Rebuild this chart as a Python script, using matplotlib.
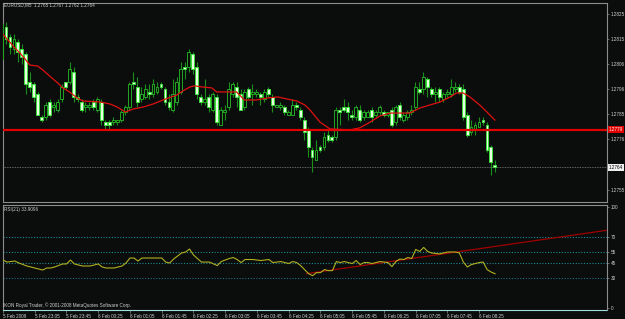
import numpy as np
import matplotlib.pyplot as plt

# EURUSD M5 candles, 5 Feb 22:25 -> 6 Feb 08:45
opens = [1.2807, 1.2820, 1.2816, 1.2811, 1.2814, 1.2811, 1.2809, 1.2798, 1.2797, 1.2793,
         1.2784, 1.2784, 1.2790, 1.2788, 1.2787, 1.2791, 1.2798, 1.2798, 1.2802, 1.2792,
         1.2790, 1.2788, 1.2788, 1.2790, 1.2787, 1.2790, 1.2782, 1.2782, 1.2782, 1.2782,
         1.2783, 1.2786, 1.2788, 1.2798, 1.2796, 1.2791, 1.2792, 1.2794, 1.2793, 1.2794,
         1.2797, 1.2795, 1.2790, 1.2787, 1.2790, 1.2794, 1.2804, 1.2804, 1.2809, 1.2804,
         1.2792, 1.2790, 1.2792, 1.2787, 1.2792, 1.2781, 1.2786, 1.2788, 1.2793, 1.2796,
         1.2793, 1.2788, 1.2795, 1.2793, 1.2793, 1.2793, 1.2791, 1.2795, 1.2792, 1.2788,
         1.2788, 1.2788, 1.2785, 1.2785, 1.2789, 1.2787, 1.2783, 1.2779, 1.2771, 1.2767,
         1.2772, 1.2772, 1.2777, 1.2776, 1.2776, 1.2787, 1.2788, 1.2788, 1.2785, 1.2784,
         1.2787, 1.2784, 1.2784, 1.2787, 1.2785, 1.2786, 1.2786, 1.2785, 1.2787, 1.2782,
         1.2789, 1.2783, 1.2784, 1.2786, 1.2788, 1.2795, 1.2795, 1.2799, 1.2795, 1.2793,
         1.2795, 1.2791, 1.2793, 1.2793, 1.2795, 1.2796, 1.2795, 1.2785, 1.2778, 1.2779,
         1.2780, 1.2783, 1.2781, 1.2772, 1.2765]
highs = [1.2822, 1.2822, 1.2817, 1.2817, 1.2815, 1.2813, 1.2810, 1.2802, 1.2798, 1.2794,
         1.2785, 1.2790, 1.2791, 1.2790, 1.2791, 1.2797, 1.2798, 1.2806, 1.2804, 1.2793,
         1.2791, 1.2790, 1.2790, 1.2791, 1.2792, 1.2791, 1.2783, 1.2783, 1.2784, 1.2783,
         1.2787, 1.2789, 1.2798, 1.2802, 1.2800, 1.2796, 1.2797, 1.2797, 1.2799, 1.2798,
         1.2798, 1.2796, 1.2793, 1.2799, 1.2800, 1.2806, 1.2806, 1.2811, 1.2810, 1.2806,
         1.2793, 1.2799, 1.2793, 1.2794, 1.2793, 1.2788, 1.2789, 1.2798, 1.2798, 1.2798,
         1.2795, 1.2795, 1.2796, 1.2797, 1.2795, 1.2794, 1.2795, 1.2796, 1.2793, 1.2789,
         1.2790, 1.2789, 1.2787, 1.2791, 1.2790, 1.2788, 1.2784, 1.2780, 1.2772, 1.2775,
         1.2773, 1.2778, 1.2779, 1.2777, 1.2788, 1.2788, 1.2791, 1.2790, 1.2787, 1.2789,
         1.2789, 1.2787, 1.2787, 1.2788, 1.2787, 1.2789, 1.2787, 1.2786, 1.2788, 1.2789,
         1.2790, 1.2786, 1.2787, 1.2789, 1.2798, 1.2798, 1.2802, 1.2800, 1.2796, 1.2796,
         1.2796, 1.2794, 1.2795, 1.2799, 1.2798, 1.2797, 1.2797, 1.2786, 1.2783, 1.2782,
         1.2784, 1.2784, 1.2782, 1.2773, 1.2767]
lows = [1.2806, 1.2813, 1.2809, 1.2809, 1.2806, 1.2805, 1.2793, 1.2794, 1.2790, 1.2785,
        1.2782, 1.2783, 1.2784, 1.2786, 1.2786, 1.2790, 1.2795, 1.2797, 1.2790, 1.2790,
        1.2786, 1.2786, 1.2787, 1.2787, 1.2786, 1.2781, 1.2779, 1.2779, 1.2781, 1.2781,
        1.2782, 1.2785, 1.2787, 1.2795, 1.2788, 1.2790, 1.2791, 1.2791, 1.2792, 1.2793,
        1.2795, 1.2789, 1.2787, 1.2786, 1.2789, 1.2793, 1.2799, 1.2802, 1.2801, 1.2791,
        1.2789, 1.2789, 1.2786, 1.2786, 1.2781, 1.2781, 1.2783, 1.2787, 1.2792, 1.2788,
        1.2787, 1.2787, 1.2791, 1.2789, 1.2792, 1.2789, 1.2790, 1.2792, 1.2786, 1.2788,
        1.2787, 1.2785, 1.2785, 1.2785, 1.2787, 1.2783, 1.2775, 1.2768, 1.2762, 1.2767,
        1.2770, 1.2771, 1.2774, 1.2774, 1.2775, 1.2781, 1.2786, 1.2783, 1.2783, 1.2783,
        1.2782, 1.2783, 1.2784, 1.2782, 1.2784, 1.2785, 1.2784, 1.2784, 1.2780, 1.2781,
        1.2783, 1.2782, 1.2783, 1.2785, 1.2787, 1.2793, 1.2793, 1.2792, 1.2792, 1.2790,
        1.2790, 1.2790, 1.2792, 1.2792, 1.2794, 1.2793, 1.2783, 1.2776, 1.2777, 1.2777,
        1.2780, 1.2781, 1.2770, 1.2761, 1.2762]
closes = [1.2821, 1.2815, 1.2812, 1.2815, 1.2810, 1.2808, 1.2797, 1.2796, 1.2792, 1.2785,
          1.2783, 1.2789, 1.2785, 1.2789, 1.2790, 1.2796, 1.2796, 1.2803, 1.2792, 1.2791,
          1.2787, 1.2789, 1.2789, 1.2788, 1.2791, 1.2783, 1.2781, 1.2781, 1.2783, 1.2783,
          1.2786, 1.2788, 1.2797, 1.2797, 1.2790, 1.2793, 1.2795, 1.2793, 1.2797, 1.2796,
          1.2796, 1.2790, 1.2788, 1.2793, 1.2798, 1.2803, 1.2803, 1.2810, 1.2803, 1.2793,
          1.2790, 1.2791, 1.2788, 1.2793, 1.2782, 1.2787, 1.2787, 1.2795, 1.2797, 1.2792,
          1.2787, 1.2794, 1.2792, 1.2794, 1.2794, 1.2792, 1.2794, 1.2793, 1.2789, 1.2789,
          1.2789, 1.2786, 1.2786, 1.2789, 1.2788, 1.2784, 1.2778, 1.2772, 1.2768, 1.2771,
          1.2771, 1.2776, 1.2775, 1.2775, 1.2787, 1.2786, 1.2787, 1.2786, 1.2784, 1.2788,
          1.2783, 1.2786, 1.2786, 1.2784, 1.2786, 1.2788, 1.2785, 1.2786, 1.2781, 1.2788,
          1.2784, 1.2785, 1.2786, 1.2787, 1.2796, 1.2794, 1.2800, 1.2796, 1.2793, 1.2794,
          1.2792, 1.2793, 1.2794, 1.2796, 1.2796, 1.2794, 1.2784, 1.2777, 1.2780, 1.2781,
          1.2782, 1.2782, 1.2771, 1.2766, 1.2764]

# moving average (red), read at bar positions
ma_bars = [0, 3, 4.5, 6, 7, 9, 10.3, 12, 14, 15.3, 17, 18.9, 20.4, 24.7, 27.2, 29, 31, 33,
           35.5, 38, 40.5, 44, 45.5, 47.3, 48.5, 50.3, 52.8, 54, 56.6, 59, 61, 64, 66.7,
           69.4, 71.7, 74.2, 76.2, 77.5, 80, 82.5, 87.5, 90, 92.6, 95, 97.6, 100.9, 102.6,
           105.1, 107.6, 110.2, 112.7, 114.4, 116, 117.7, 120.2, 122, 124]
ma_values = [1.28174, 1.28119, 1.28095, 1.28067, 1.28047, 1.28043, 1.28027, 1.28003,
             1.27976, 1.27956, 1.27940, 1.27916, 1.27904, 1.27900, 1.27892, 1.27880,
             1.27860, 1.27872, 1.27880, 1.27892, 1.27908, 1.27928, 1.27944, 1.27960,
             1.27964, 1.27960, 1.27956, 1.27940, 1.27940, 1.27940, 1.27908, 1.27908,
             1.27916, 1.27920, 1.27912, 1.27904, 1.27888, 1.27868, 1.27820, 1.27793,
             1.27789, 1.27797, 1.27820, 1.27844, 1.27856, 1.27856, 1.27856, 1.27876,
             1.27888, 1.27900, 1.27920, 1.27936, 1.27936, 1.27920, 1.27888, 1.27860,
             1.27828]

level_price = 1.2779
bid_price = 1.2764

rsi_bars = [0, 1, 3, 4, 6, 8, 10, 11, 12, 13, 15, 16, 17, 18, 20, 22, 24, 25, 26, 28,
            30, 31, 32, 33, 34, 35, 37, 40, 41, 42, 43, 45, 46, 47, 48, 50, 52, 54, 55,
            57, 58, 59, 60, 61, 63, 65, 67, 68, 70, 72, 73, 74, 75, 76, 77, 78, 79, 80,
            81, 82, 83, 84, 85, 86, 87, 88, 89, 90, 91, 92, 93, 95, 97, 98, 99, 100, 101,
            102, 103, 104, 105, 106, 107, 108, 109, 110, 111, 112, 113, 114, 115, 116,
            117, 118, 119, 120, 121, 122, 123, 124]
rsi_values = [47.5, 45.5, 46.5, 44.6, 41.6, 39.6, 37.6, 39.6, 39.6, 40.6, 43.6, 43.6,
              47.5, 43.6, 41.6, 41.6, 43.6, 40.6, 39.6, 39.6, 41.6, 44.6, 49.5, 49.5,
              46.5, 49.5, 49.5, 49.5, 45.5, 44.6, 48.5, 54.5, 55.4, 58.4, 52.5, 45.5,
              45.5, 42.0, 46.0, 49.0, 50.0, 48.0, 45.0, 48.0, 48.0, 47.0, 48.0, 45.0,
              46.0, 44.0, 46.0, 45.0, 42.0, 38.0, 34.0, 32.0, 35.0, 35.0, 38.0, 37.0,
              37.0, 46.0, 45.0, 46.0, 45.0, 44.0, 47.0, 43.0, 45.0, 45.0, 44.0, 46.0,
              45.0, 41.0, 46.0, 48.5, 48.0, 50.0, 49.0, 58.0, 56.0, 60.0, 56.0, 54.5,
              54.0, 53.5, 54.5, 55.4, 55.5, 55.4, 54.5, 45.5, 40.6, 43.0, 44.0, 45.0,
              45.5, 38.0, 35.6, 33.9]
trend_bars = [76.5, 152.2]
trend_values = [34.0, 77.0]
rsi_levels = [70, 55, 45, 30]

price_ticks = [1.28250, 1.28151, 1.28051, 1.27952, 1.27852, 1.27753, 1.27550]
price_labels = ['1.2825', '1.2815', '1.2806', '1.2796', '1.2785', '1.2776', '1.2755']
rsi_ticks = [100, 70, 55, 45, 30, 0]
time_bars = [0, 8, 16, 24, 32, 40, 48, 56, 64, 72, 80, 88, 96, 104, 112, 120]
time_labels = ['5 Feb 2009', '5 Feb 23:05', '5 Feb 23:45', '6 Feb 00:25', '6 Feb 01:05',
               '6 Feb 01:45', '6 Feb 02:25', '6 Feb 03:05', '6 Feb 03:45', '6 Feb 04:25',
               '6 Feb 05:05', '6 Feb 05:45', '6 Feb 06:25', '6 Feb 07:05', '6 Feb 07:45',
               '6 Feb 08:25']

plt.rcParams['font.family'] = ['Liberation Sans', 'DejaVu Sans']

BG = '#0a0d0c'
TXT = '#d0d0d0'
GRID = '#8c8c8c'
FS = 3.3
W, H = 625, 319


def box(x0, y0, x1, y1):
    return [x0 / W, 1 - y1 / H, (x1 - x0) / W, (y1 - y0) / H]


fig = plt.figure(figsize=(W / 100, H / 100), dpi=100, facecolor=BG)
ax = fig.add_axes(box(3, 3, 607, 202), facecolor=BG)
ar = fig.add_axes(box(3, 204.5, 607, 309.5), facecolor=BG)

for a in (ax, ar):
    for s in a.spines.values():
        s.set_color(GRID)
        s.set_linewidth(0.8)
    a.set_xlim(0.25, 152.2)
    a.yaxis.tick_right()
    a.tick_params(axis='y', length=1.5, width=0.5, color=GRID, labelsize=FS,
                  labelcolor=TXT, pad=1.0)

# --- candles
x = np.arange(len(opens))
o, h, l, c = (np.array(v) for v in (opens, highs, lows, closes))
up = c >= o
ax.vlines(x, l, h, color='#1a8f1a', lw=0.8, zorder=2)
body = np.maximum(np.abs(c - o), 0.00003)
ax.bar(x[up], body[up], bottom=o[up], width=0.72, facecolor=BG,
       edgecolor='#22a822', linewidth=0.7, zorder=3)
ax.bar(x[~up], body[~up], bottom=c[~up], width=0.72, facecolor='#e6ffe0',
       edgecolor='#3cdc3c', linewidth=0.7, zorder=3)

ax.plot(ma_bars, ma_values, color='#e01010', lw=0.9, zorder=4)
ax.axhline(level_price, color='#e00000', lw=1.6, zorder=4)
ax.axhline(bid_price, color='#808080', lw=0.6, ls=(0, (1, 1)), zorder=1)

ax.set_ylim(1.275023, 1.282937)
ax.set_yticks(price_ticks, price_labels)
ax.set_xticks([])

ax.text(1.003, level_price, f'{level_price:.4f}', transform=ax.get_yaxis_transform(),
        fontsize=FS, color='#ffffff', va='center', ha='left',
        bbox=dict(boxstyle='square,pad=0.15', fc='#e00000', ec='none'))
ax.text(1.003, bid_price, f'{bid_price:.4f}', transform=ax.get_yaxis_transform(),
        fontsize=FS, color='#000000', va='center', ha='left',
        bbox=dict(boxstyle='square,pad=0.15', fc='#f0f0f0', ec='none'))

# --- RSI panel
for lv in rsi_levels:
    col = '#1f6f86' if lv == 30 else '#1d8a94'
    ar.axhline(lv, color=col, lw=0.8, ls=(0, (1, 1.5)))
ar.plot(rsi_bars, rsi_values, color='#b0b020', lw=0.8, zorder=3)
ar.plot(trend_bars, trend_values, color='#a00000', lw=0.9, zorder=2)
ar.set_ylim(-1.5, 102.5)
ar.set_yticks(rsi_ticks, [str(t) for t in rsi_ticks])
ar.spines['bottom'].set_color('#9fdede')
ar.spines['bottom'].set_linestyle((0, (1, 1)))
ar.set_xticks(time_bars, time_labels)
ar.tick_params(axis='x', length=2, width=0.5, color=GRID, labelsize=FS,
               labelcolor=TXT, pad=1)
for t in ar.get_xticklabels():
    t.set_ha('left')

fig.text(4 / W, 1 - 5 / H, 'EURUSD,M5  1.2765 1.2767 1.2762 1.2764', fontsize=FS,
         color=TXT, va='center', ha='left')
fig.text(4 / W, 1 - 209 / H, 'RSI(21) 33.9096', fontsize=FS, color=TXT,
         va='center', ha='left')
fig.text(3 / W, 1 - 305 / H, 'IKON Royal Trader, \u00a9 2001-2008 MetaQuotes Software Corp.',
         fontsize=FS, color=TXT, va='center', ha='left')

fig.savefig('out.png', dpi=100, facecolor=BG)
